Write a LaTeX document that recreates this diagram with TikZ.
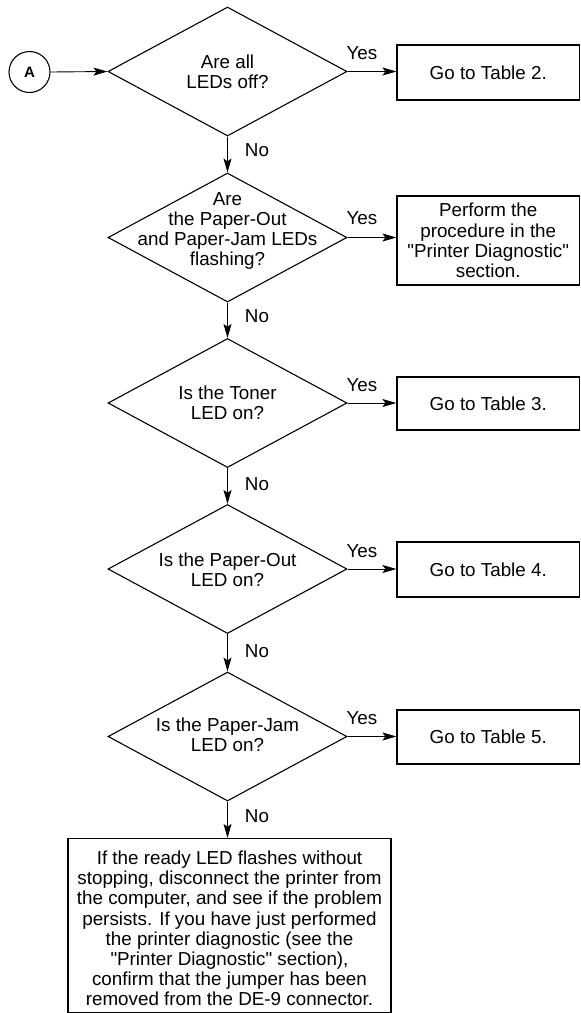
\documentclass[tikz,border=0pt]{standalone}
\usepackage{fontspec}
\setmainfont{Liberation Sans}[Ligatures=TeXOff]
\usetikzlibrary{shapes.geometric,arrows.meta}
\begin{document}
\begin{tikzpicture}[x=1pt,y=-1pt,
  every node/.style={font=\fontsize{18.8}{20.2}\selectfont},
  dia/.style={draw,diamond,line width=1.1pt,inner sep=0pt,minimum width=239pt,minimum height=129pt},
  box/.style={draw,line width=1.2pt,inner sep=0pt,align=center},
  lbl/.style={align=center,inner sep=0pt},
  arr/.style={line width=0.9pt,-{Stealth[length=14pt,width=8pt,inset=3pt]}},
]
\useasboundingbox (0,0) rectangle (581,1013);

% start circle
\node[draw,circle,line width=1.1pt,minimum size=41pt,inner sep=0pt,
      font=\bfseries\fontsize{15}{15}\selectfont] (A) at (29.5,72) {A};

% decisions
\node[dia] (d1) at (227.5,71.5) {};
\node[lbl] (t1) at (227.5,72) {Are all\\LEDs off?};
\node[dia] (d2) at (227.5,237.5) {};
\node[lbl] (t2) at (227.5,231) {Are\\the Paper-Out\\and Paper-Jam LEDs\\flashing?};
\node[dia] (d3) at (227.5,403) {};
\node[lbl] (t3) at (227.5,402.5) {Is the Toner\\LED on?};
\node[dia] (d4) at (227.5,569) {};
\node[lbl] (t4) at (227.5,570) {Is the Paper-Out\\LED on?};
\node[dia] (d5) at (227.5,736.5) {};
\node[lbl] (t5) at (227.5,735) {Is the Paper-Jam\\LED on?};

% action boxes
\node[box,minimum width=182.5pt,minimum height=55pt] (b1) at (488.25,72.5) {Go to Table 2.};
\node[box,minimum width=182.5pt,minimum height=89pt] (b2) at (488.25,240.5) {Perform the\\procedure in the\\"Printer Diagnostic"\\section.};
\node[box,minimum width=182.5pt,minimum height=53pt] (b3) at (488.25,403.5) {Go to Table 3.};
\node[box,minimum width=182.5pt,minimum height=55pt] (b4) at (488.25,569.5) {Go to Table 4.};
\node[box,minimum width=182.5pt,minimum height=54pt] (b5) at (488.25,737) {Go to Table 5.};

% final box
\node[draw,line width=1.2pt,minimum width=323pt,minimum height=174pt,inner sep=0pt] (fin) at (229.5,925.5) {};
\node[lbl] (fint) at (229.5,928.5) {If the ready LED flashes without\\stopping, disconnect the printer from\\the computer, and see if the problem\\persists. If you have just performed\\the printer diagnostic (see the\\"Printer Diagnostic" section),\\confirm that the jumper has been\\removed from the DE-9 connector.};

% connectors
\draw[arr] (A.east) -- (d1.west);
\draw[arr] (d1.east) -- (d1.east -| b1.west);
\draw[arr] (d2.east) -- (d2.east -| b2.west);
\draw[arr] (d3.east) -- (d3.east -| b3.west);
\draw[arr] (d4.east) -- (d4.east -| b4.west);
\draw[arr] (d5.east) -- (d5.east -| b5.west);
\draw[arr] (d1.south) -- (d2.north);
\draw[arr] (d2.south) -- (d3.north);
\draw[arr] (d3.south) -- (d4.north);
\draw[arr] (d4.south) -- (d5.north);
\draw[arr] (d5.south) -- (d5.south |- fin.north);

% labels
\node[lbl] (y1) at (362,53) {Yes};
\node[lbl] (y2) at (362,218) {Yes};
\node[lbl] (y3) at (362,385) {Yes};
\node[lbl] (y4) at (362,551) {Yes};
\node[lbl] (y5) at (362,718) {Yes};
\node[lbl] (n1) at (257,150) {No};
\node[lbl] (n2) at (257,316) {No};
\node[lbl] (n3) at (257,484) {No};
\node[lbl] (n4) at (257,651) {No};
\node[lbl] (n5) at (257,816) {No};
\end{tikzpicture}
\end{document}
